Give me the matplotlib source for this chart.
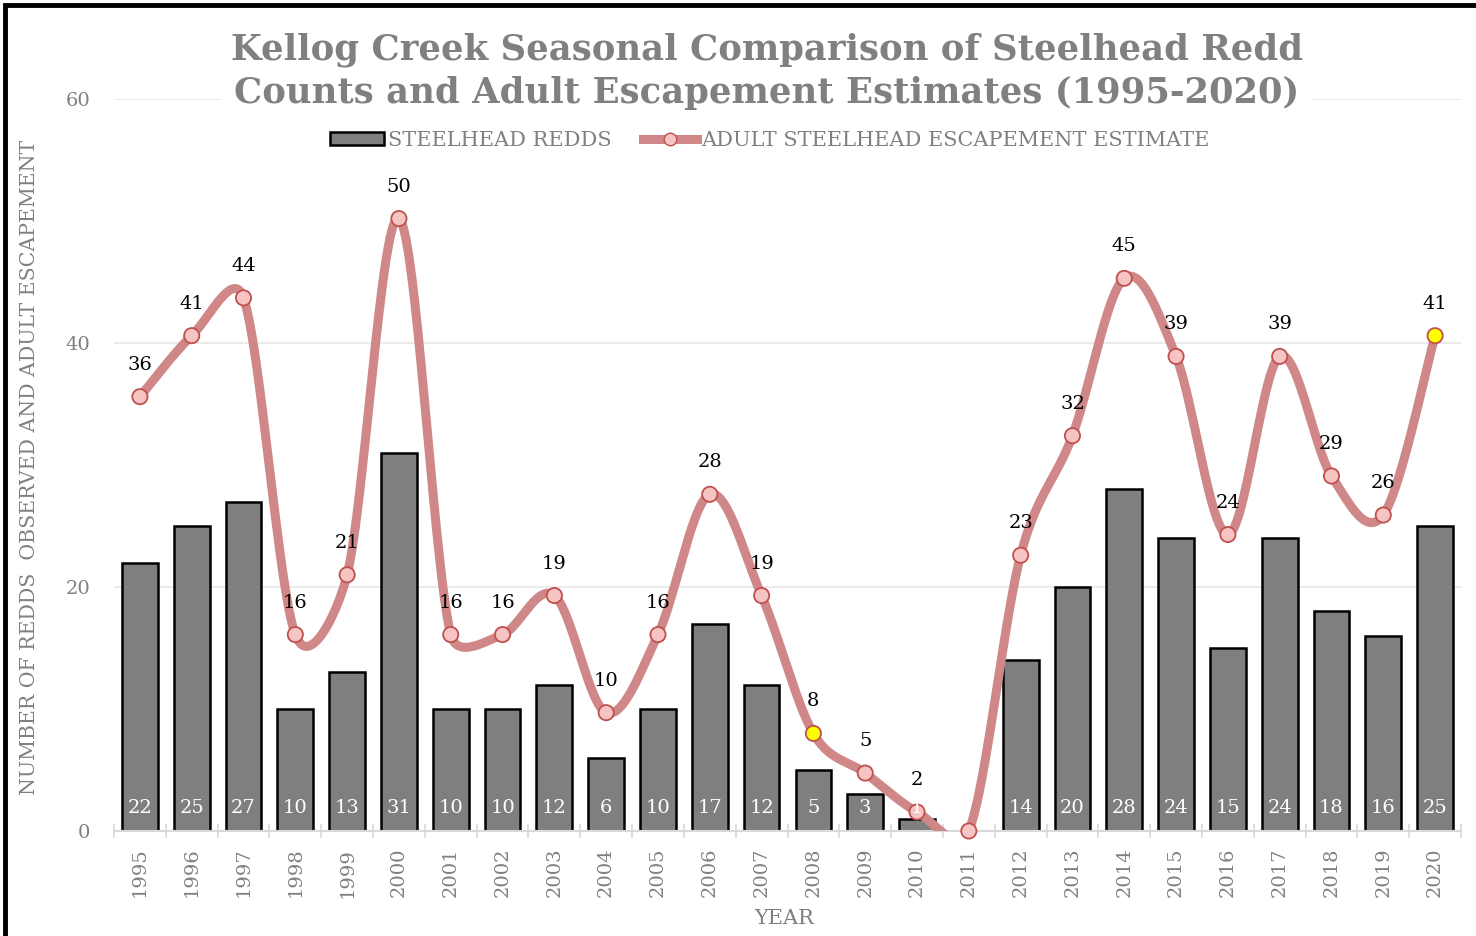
import numpy as np
import matplotlib
matplotlib.use("Agg")
import matplotlib.pyplot as plt
from matplotlib.patches import Patch, Rectangle
from matplotlib.lines import Line2D

years = [str(y) for y in range(1995, 2021)]
redds = [22, 25, 27, 10, 13, 31, 10, 10, 12, 6, 10, 17, 12, 5, 3, 1, 0, 14, 20, 28, 24, 15, 24, 18, 16, 25]
escapement = [35.6, 40.6, 43.7, 16.1, 21.0, 50.2, 16.1, 16.1, 19.3, 9.7, 16.1, 27.6, 19.3, 8.0, 4.75,
              1.56, 0.0, 22.6, 32.4, 45.3, 38.9, 24.3, 38.9, 29.1, 25.9, 40.6]
highlight_years = ["2008", "2020"]
yticks = [0, 20, 40, 60]

FONT = "DejaVu Serif"
GRAY = "#808080"
plt.rcParams["font.family"] = FONT

W, H = 1476, 936
fig = plt.figure(figsize=(W / 100, H / 100), dpi=100)
ax = fig.add_axes([114 / W, 1 - 831 / H, (1461 - 114) / W, (831 - 99) / H])

x = np.arange(len(years))
ax.set_xlim(-0.5, len(years) - 0.5)
ax.set_ylim(0, 60)

# bars
ax.bar(x, redds, width=0.69, color="#7f7f7f", edgecolor="black", linewidth=1.8, zorder=2)
for xi, v in zip(x, redds):
    if v > 0:
        ax.annotate(str(v), (xi, 0), xytext=(0, 16.5), textcoords="offset points",
                    ha="center", va="center", color="white", fontsize=14, zorder=5)

# smooth line: spreadsheet-style Bezier smoothing with control arms limited
# to half of the segment length (computed in pixel space)
sx = (1461 - 114) / len(years)   # px per category
sy = (831 - 99) / 60.0           # px per unit
Ppx = np.column_stack([x * sx, np.array(escapement, dtype=float) * sy])
n = len(Ppx)


def arm(pa, pb, seg_len):
    d = pb - pa
    L = np.hypot(*d)
    if L == 0:
        return np.zeros(2)
    a = d / 6.0
    if L / 6.0 > seg_len / 2.0:
        a = d / L * seg_len / 2.0
    return a


curve = []
for i in range(n - 1):
    p0 = Ppx[i - 1] if i > 0 else Ppx[i]
    p1 = Ppx[i]
    p2 = Ppx[i + 1]
    p3 = Ppx[i + 2] if i + 2 < n else Ppx[i + 1]
    seg = np.hypot(*(p2 - p1))
    c1 = p1 + arm(p0, p2, seg)
    c2 = p2 - arm(p1, p3, seg)
    t = np.linspace(0, 1, 50)[:, None]
    b = ((1 - t) ** 3) * p1 + 3 * ((1 - t) ** 2) * t * c1 + 3 * (1 - t) * t ** 2 * c2 + t ** 3 * p2
    curve.append(b if i == 0 else b[1:])
curve = np.vstack(curve)
curve = np.column_stack([curve[:, 0] / sx, curve[:, 1] / sy])

LINEC = "#d08787"
ax.plot(curve[:, 0], curve[:, 1], color=LINEC, lw=6.5, solid_capstyle="round", zorder=3)

face = ["#ffff00" if y in highlight_years else "#f7c4c4" for y in years]
ax.scatter(x, escapement, s=120, c=face, edgecolors="#c0504d", linewidths=1.3, zorder=4, clip_on=False)
for xi, v in zip(x, escapement):
    if v > 0:
        ax.annotate(f"{int(v + 0.5)}", (xi, v), xytext=(0, 23), textcoords="offset points",
                    ha="center", va="center", color="black", fontsize=14, zorder=5)

ax.set_yticks(yticks)
ax.set_yticklabels([str(v) for v in yticks], color=GRAY, fontsize=14)
ax.tick_params(axis="y", length=0, pad=17)
ax.grid(axis="y", color="#e8e8e8", lw=1.2, zorder=0)
ax.set_axisbelow(True)

ax.set_xticks(x)
ax.set_xticklabels(years, rotation=90, color=GRAY, fontsize=14)
ax.tick_params(axis="x", which="major", length=0, pad=12)
ax.set_xticks(np.arange(-0.5, len(years)), minor=True)
ax.tick_params(axis="x", which="minor", direction="inout", length=10, width=1.2, color="#d9d9d9")

for s in ["top", "right", "left"]:
    ax.spines[s].set_visible(False)
ax.spines["bottom"].set_color("#d9d9d9")
ax.spines["bottom"].set_linewidth(1.5)

# title
fig.text(767 / W, 1 - 71 / H, "Kellog Creek Seasonal Comparison of Steelhead Redd\nCounts and Adult Escapement Estimates (1995-2020)",
         ha="center", va="center", fontsize=25.5, fontweight="bold", color=GRAY, linespacing=1.33,
         bbox=dict(facecolor="white", edgecolor="none", pad=6), zorder=10)

# legend
handles = [Patch(facecolor="#7f7f7f", edgecolor="black", linewidth=1.8),
           Line2D([0], [0], color=LINEC, lw=6.5, marker="o", markersize=9,
                  markerfacecolor="#f7c4c4", markeredgecolor="#c0504d")]
fig.legend(handles, ["STEELHEAD REDDS", "ADULT STEELHEAD ESCAPEMENT ESTIMATE"],
           loc="center", bbox_to_anchor=(770 / W, 1 - 140 / H), ncol=2, frameon=False,
           fontsize=15, labelcolor=GRAY, handlelength=2.6, handleheight=0.6,
           handletextpad=0.2, columnspacing=1.5)

fig.text(784 / W, 1 - 918 / H, "YEAR", ha="center", va="center", color=GRAY, fontsize=15)
fig.text(30 / W, 1 - 467 / H, "NUMBER OF REDDS  OBSERVED AND ADULT ESCAPEMENT", rotation=90,
         ha="center", va="center", color=GRAY, fontsize=14.8)

# outer frame
fig.patches.append(Rectangle((5 / W, -0.1), 1.2, 1.1 - 5 / H, transform=fig.transFigure,
                             fill=False, edgecolor="black", linewidth=3.5, zorder=20))

fig.savefig("out.png", dpi=100, facecolor="white")
